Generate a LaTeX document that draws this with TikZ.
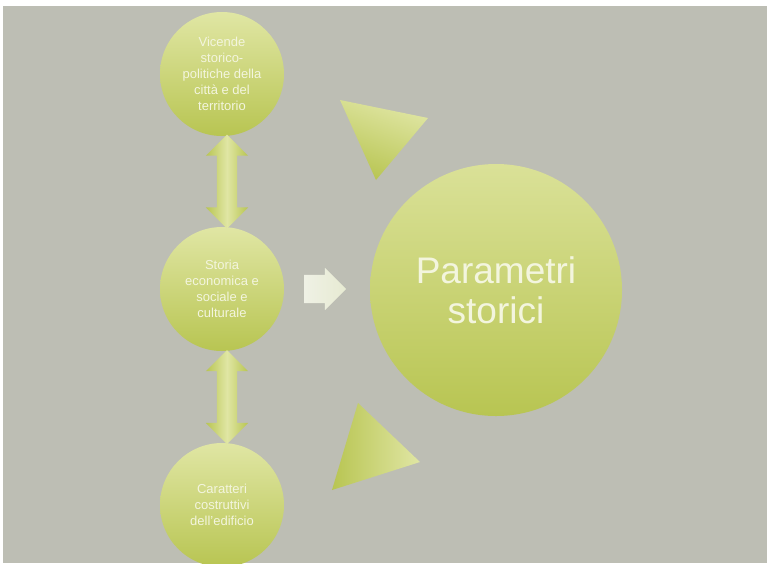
\documentclass[tikz,border=0pt]{standalone}
\usepackage{fontspec}
\setmainfont{Liberation Sans}
\usetikzlibrary{shapes.arrows}
\usetikzlibrary{calc}

\definecolor{bgGray}{RGB}{189,190,180}
\definecolor{leafLight}{RGB}{224,230,164}
\definecolor{leafDark}{RGB}{184,197,82}
\definecolor{textCream}{RGB}{243,245,222}
\definecolor{arrowPale}{RGB}{232,235,218}

\tikzset{
    topic/.style={circle, minimum size=124pt, inner sep=0pt, draw=none,
        top color=leafLight, bottom color=leafDark, text=textCream,
        align=center, font=\fontsize{13}{16}\selectfont},
    hub/.style={circle, minimum size=252pt, inner sep=0pt, draw=none,
        top color=leafLight!85!leafDark, bottom color=leafDark, text=textCream,
        align=center, font=\fontsize{37}{40}\selectfont},
    linkarrow/.style={double arrow, rotate=90, draw=none, inner xsep=0pt, inner ysep=10pt,
        minimum height=94pt, double arrow head extend=11pt,
        left color=leafDark, right color=leafDark, middle color=leafLight},
    pointer/.style={single arrow, draw=none, inner xsep=0pt, inner ysep=14pt,
        minimum height=42pt, single arrow head extend=7pt,
        left color=arrowPale!70!white, right color=arrowPale!85!leafLight}
}

\begin{document}
\begin{tikzpicture}[x=1pt, y=-1pt]
    %% frame
    \useasboundingbox (0,0) rectangle (767,563);
    \fill[white] (0,0) rectangle (767,563);
    \fill[bgGray] (3,6) rectangle (767,563);

    %% triangles
    \shade[top color=leafLight, bottom color=leafDark, shading angle=-20]
        (340,100) -- (428,118) -- (376,180) -- cycle;
    \shade[left color=leafDark, right color=leafLight]
        (358,403) -- (420,462) -- (332,490) -- cycle;

    %% circles
    \begin{scope}
        \clip (3,6) rectangle (767,563);
        \node[topic] (history) at (222,74) {Vicende\\storico-\\politiche della\\città e del\\territorio};
        \node[topic] (economy) at (222,289) {Storia\\economica e\\sociale e\\culturale};
        \node[topic] (building) at (222,505) {Caratteri\\costruttivi\\dell'edificio};
    \end{scope}
    \node[hub] (params) at (496,290) {Parametri\\storici};

    %% arrows between circles
    \node[linkarrow] (linkA) at ($(history)!0.5!(economy) + (5,0)$) {};
    \node[linkarrow] (linkB) at ($(economy)!0.5!(building) + (5,0)$) {};

    %% arrow to the hub
    \node[pointer] (toParams) at (318,289) {};
\end{tikzpicture}
\end{document}
